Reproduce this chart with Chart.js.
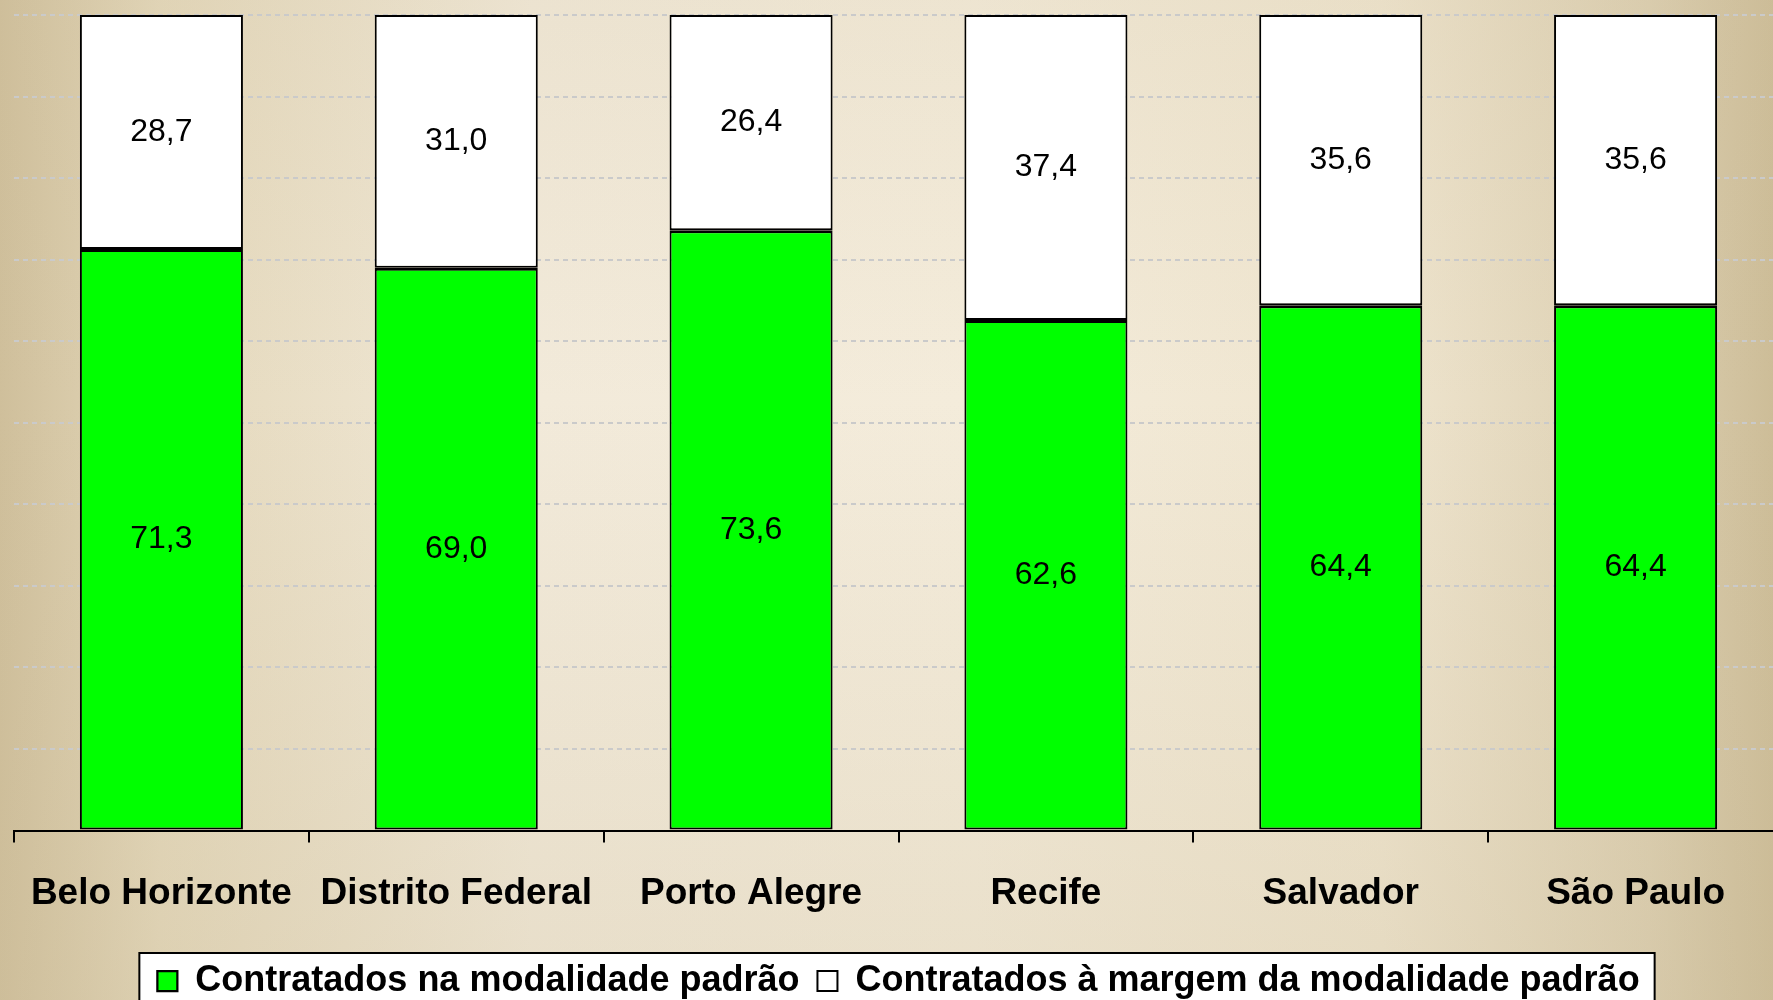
<!DOCTYPE html>
<html>
<head>
<meta charset="utf-8">
<script src="https://cdn.jsdelivr.net/npm/chart.js@4/dist/chart.umd.min.js"></script>
<style>
    html, body { margin: 0; padding: 0; overflow: hidden; width: 1773px; height: 1000px; }
    body {
        background:
            linear-gradient(to bottom, rgba(200, 185, 150, 0.15), rgba(255, 255, 255, 0) 40%, rgba(200, 185, 150, 0.25)),
            linear-gradient(to right, #cfbf9b 0%, #e4d8bb 9%, #f2eada 30%, #f4ecdb 55%, #efe5cf 78%, #dccfb1 93%, #cdbd98 100%);
    }
    canvas { display: block; }
</style>
</head>
<body>
<canvas id="chart" width="1790" height="1009"></canvas>
<script>
const cities = ['Belo Horizonte', 'Distrito Federal', 'Porto Alegre', 'Recife', 'Salvador', 'São Paulo'];
const padrao = [71.3, 69.0, 73.6, 62.6, 64.4, 64.4];
const margem = [28.7, 31.0, 26.4, 37.4, 35.6, 35.6];
const labelPadrao = 'Contratados na modalidade padrão';
const labelMargem = 'Contratados à margem da modalidade padrão';

const fontFamily = '"Liberation Sans", Arial, sans-serif';

// values written in the middle of each segment
const segmentLabels = {
    id: 'segmentLabels',
    afterDatasetsDraw(chart) {
        const { ctx } = chart;
        ctx.save();
        ctx.fillStyle = '#000';
        ctx.font = '32px ' + fontFamily;
        ctx.textAlign = 'center';
        ctx.textBaseline = 'middle';
        chart.data.datasets.forEach((ds, i) => {
            chart.getDatasetMeta(i).data.forEach((bar, j) => {
                const text = ds.data[j].toFixed(1).replace('.', ',');
                ctx.fillText(text, bar.x, (bar.y + bar.base) / 2);
            });
        });
        ctx.restore();
    },
};

// white framed box behind the legend
const legendFrame = {
    id: 'legendFrame',
    beforeDraw(chart) {
        const boxes = chart.legend.legendHitBoxes;
        if (!boxes || !boxes.length) {
            return;
        }
        const left = Math.min(...boxes.map((b) => b.left)) - 18;
        const right = Math.max(...boxes.map((b) => b.left + b.width)) + 15;
        const top = Math.min(...boxes.map((b) => b.top)) - 10;
        const bottom = Math.max(...boxes.map((b) => b.top + b.height)) + 20;
        const { ctx } = chart;
        ctx.save();
        ctx.fillStyle = '#fff';
        ctx.strokeStyle = '#000';
        ctx.lineWidth = 2;
        ctx.fillRect(left, top, right - left, bottom - top);
        ctx.strokeRect(left, top, right - left, bottom - top);
        ctx.restore();
    },
};

new Chart(document.getElementById('chart'), {
    type: 'bar',
    data: {
        labels: cities,
        datasets: [
            {
                label: labelPadrao,
                data: padrao,
                backgroundColor: '#00ff00',
                borderColor: '#000',
                borderWidth: { top: 3, bottom: 2, left: 2, right: 2 },
                borderSkipped: false,
            },
            {
                label: labelMargem,
                data: margem,
                backgroundColor: '#ffffff',
                borderColor: '#000',
                borderWidth: 2,
                borderSkipped: false,
            },
        ],
    },
    options: {
        responsive: false,
        animation: false,
        layout: { padding: { left: 14, top: 15, right: 7, bottom: 0 } },
        datasets: {
            bar: { categoryPercentage: 1, barPercentage: 0.553 },
        },
        scales: {
            x: {
                stacked: true,
                border: { color: '#000', width: 2 },
                grid: {
                    offset: true,
                    drawOnChartArea: false,
                    color: '#000',
                    lineWidth: 2,
                    tickLength: 12,
                },
                ticks: {
                    color: '#000',
                    padding: 29,
                    font: { family: fontFamily, size: 37, weight: 'bold' },
                },
            },
            y: {
                stacked: true,
                min: 0,
                max: 100,
                border: { display: false, dash: [5, 4] },
                grid: { color: '#cacaca', lineWidth: 2, drawTicks: false },
                ticks: { display: false, stepSize: 10 },
            },
        },
        plugins: {
            tooltip: { enabled: false },
            legend: {
                position: 'bottom',
                labels: {
                    color: '#000',
                    boxWidth: 20,
                    boxHeight: 20,
                    padding: 18,
                    font: { family: fontFamily, size: 36, weight: 'bold' },
                },
            },
        },
    },
    plugins: [legendFrame, segmentLabels],
});
</script>
</body>
</html>
